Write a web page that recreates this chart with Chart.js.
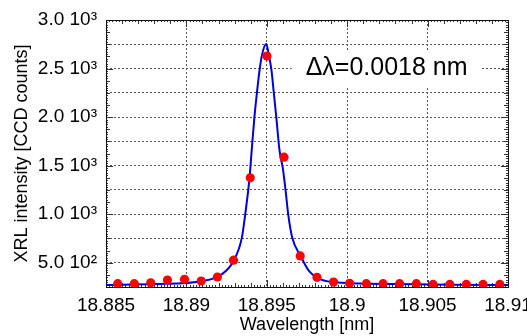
<!DOCTYPE html>
<html>
<head>
<meta charset="utf-8">
<script src="https://cdn.jsdelivr.net/npm/chart.js@4.4.1/dist/chart.umd.min.js"></script>
<style>
  body { margin: 0; background: #fff; }
  #wrap { width: 527px; height: 336px; }
</style>
</head>
<body>
<div id="wrap"><canvas id="chart" width="527" height="336"></canvas></div>
<script>
// measured points (red dots)
const dotX = [18.88573, 18.88676, 18.88778, 18.88882, 18.88988, 18.89092, 18.89193, 18.89293,
              18.89397, 18.89501, 18.89607, 18.89708, 18.89812, 18.89915, 18.90015, 18.90119,
              18.90223, 18.90326, 18.9043, 18.90534, 18.90638, 18.90741, 18.90845, 18.90949];
const dotY = [284, 284, 294, 322, 329, 312, 353, 526,
              1374, 2628, 1587, 570, 350, 301, 288, 284,
              284, 284, 284, 277, 277, 277, 277, 277];

// fitted curve (blue line)
const fitX = [18.885, 18.888, 18.89106, 18.8922, 18.89293, 18.89345, 18.89366, 18.89392, 18.89406,
              18.89423, 18.89438, 18.89455, 18.8947, 18.89496, 18.89513, 18.89529, 18.89544,
              18.89559, 18.89579, 18.896, 18.89617, 18.89633, 18.89658, 18.8971, 18.89762,
              18.89834, 18.8997, 18.903, 18.9065, 18.91];
const fitY = [270, 280, 312, 381, 518, 759, 1001, 1363, 1656,
              2000, 2242, 2483, 2638, 2752, 2638, 2483, 2242,
              2000, 1656, 1470, 1242, 1001, 759, 570, 415,
              329, 294, 280, 273, 270];

const xTicks = [18.885, 18.89, 18.895, 18.9, 18.905, 18.91];
const yTicks = [500, 1000, 1500, 2000, 2500, 3000];
const yLabels = ['5.0 10²', '1.0 10³', '1.5 10³', '2.0 10³', '2.5 10³', '3.0 10³'];
const note = 'Δλ=0.0018 nm';

const ctx = document.querySelector('#chart').getContext('2d');
const FONT = 'Liberation Sans, Arial, sans-serif';

// frame with little tick marks, plus the Δλ note
const frame = {
  id: 'frame',
  beforeDatasetsDraw(chart) {
    const {ctx, chartArea: a, scales: {x, y}} = chart;
    ctx.save();
    ctx.strokeStyle = '#333';
    ctx.lineWidth = 1;
    ctx.beginPath();
    // x minor / major ticks, top and bottom
    for (let i = 0; i <= 125; i++) {
      const v = 18.885 + i * 0.0002;
      const px = Math.round(x.getPixelForValue(v)) + 0.5;
      let len = 2;
      if (i % 5 === 0) len = 4;
      if (i % 25 === 0) len = 7;
      ctx.moveTo(px, a.bottom); ctx.lineTo(px, a.bottom - len);
      ctx.moveTo(px, a.top); ctx.lineTo(px, a.top + len);
    }
    // y ticks, left and right
    for (let v = 250; v <= 3000; v += 25) {
      const py = Math.round(y.getPixelForValue(v)) + 0.5;
      let len = 2;
      if (v % 125 === 0) len = 4;
      if (v % 500 === 0) len = 7;
      ctx.moveTo(a.left, py); ctx.lineTo(a.left + len, py);
      ctx.moveTo(a.right, py); ctx.lineTo(a.right - len, py);
    }
    ctx.stroke();
    ctx.strokeStyle = '#111';
    ctx.strokeRect(Math.round(a.left) + 0.5, Math.round(a.top) + 0.5,
                   Math.round(a.right - a.left), Math.round(a.bottom - a.top));
    ctx.restore();
  },
  afterDraw(chart) {
    const {ctx, scales: {x, y}} = chart;
    ctx.save();
    ctx.font = '25px ' + FONT;
    const cx = x.getPixelForValue(18.90245);
    const cy = y.getPixelForValue(2500);
    const w = ctx.measureText(note).width;
    ctx.fillStyle = '#fff';
    ctx.fillRect(cx - w / 2 - 14, cy - 18, w + 28, 36);
    ctx.fillStyle = '#000';
    ctx.textAlign = 'center';
    ctx.textBaseline = 'middle';
    ctx.fillText(note, cx, cy);
    ctx.restore();
  }
};

new Chart(ctx, {
  type: 'scatter',
  data: {
    datasets: [
      {
        label: 'data',
        data: dotX.map((v, i) => ({x: v, y: dotY[i]})),
        backgroundColor: '#ff0000',
        borderWidth: 0,
        pointRadius: 4.6,
        order: 1
      },
      {
        label: 'fit',
        data: fitX.map((v, i) => ({x: v, y: fitY[i]})),
        showLine: true,
        borderColor: '#0000dd',
        borderWidth: 2,
        pointRadius: 0,
        cubicInterpolationMode: 'monotone',
        order: 2
      }
    ]
  },
  plugins: [frame],
  options: {
    responsive: false,
    animation: false,
    layout: { padding: { left: 0, right: 19, top: 20, bottom: 0 } },
    plugins: { legend: { display: false }, tooltip: { enabled: false } },
    scales: {
      x: {
        type: 'linear',
        min: 18.885,
        max: 18.91,
        afterBuildTicks: s => { s.ticks = xTicks.map(v => ({value: v})); },
        afterFit: s => { s.height = 49; s.paddingLeft = 0; s.paddingRight = 0; },
        border: { display: false, dash: [2, 2] },
        grid: { color: '#555', lineWidth: 1, drawTicks: false },
        ticks: {
          color: '#000',
          padding: 7,
          maxRotation: 0,
          autoSkip: false,
          font: { family: FONT, size: 19 },
          callback: v => String(parseFloat(v.toFixed(3)))
        },
        title: {
          display: true,
          text: 'Wavelength [nm]',
          color: '#000',
          padding: 0,
          font: { family: FONT, size: 18 }
        }
      },
      y: {
        min: 250,
        max: 3000,
        afterBuildTicks: s => {
          const t = [];
          for (let v = 250; v <= 3000; v += 250) t.push({value: v});
          s.ticks = t;
        },
        afterFit: s => { s.width = 106; s.paddingTop = 0; s.paddingBottom = 0; },
        border: { display: false, dash: [2, 2] },
        grid: { color: '#555', lineWidth: 1, drawTicks: false },
        ticks: {
          color: '#000',
          padding: 9,
          autoSkip: false,
          font: { family: FONT, size: 19 },
          callback: v => {
            const i = yTicks.indexOf(v);
            return i < 0 ? '' : yLabels[i];
          }
        },
        title: {
          display: true,
          text: 'XRL intensity [CCD counts]',
          color: '#000',
          padding: { top: 11, bottom: 0 },
          font: { family: FONT, size: 18 }
        }
      }
    }
  }
});
</script>
</body>
</html>
